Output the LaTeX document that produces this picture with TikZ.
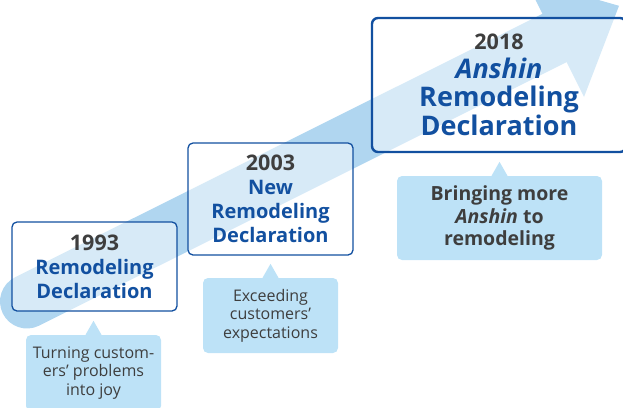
\documentclass[tikz,border=0pt]{standalone}
\usepackage{fontspec}
\setmainfont{Open Sans}
\definecolor{bandblue}{RGB}{176,214,240}
\definecolor{declblue}{RGB}{18,80,160}
\definecolor{callfill}{RGB}{189,226,247}
\definecolor{yeargray}{RGB}{62,62,62}
\newcommand{\yr}[1]{{\color{yeargray}\fontsize{21.5}{24}\selectfont#1}}
\newcommand{\ttl}[1]{{\color{declblue}#1}}

\begin{document}
\begin{tikzpicture}[%
    x=1pt, y=-1pt,
    decl/.style={draw=declblue, line width=1.3pt, rounded corners=5pt,
      fill=white, fill opacity=0.5, text opacity=1, align=center,
      inner sep=0pt, font=\fontsize{20}{24}\selectfont\bfseries},
    callout/.style={fill=callfill, rounded corners=5pt, align=center,
      text=yeargray, inner sep=0pt, font=\fontsize{16}{18.5}\selectfont}
  ]
    \useasboundingbox (0,0) rectangle (623,407);

    % the rising arrow behind the boxes
    \coordinate (tail) at (27,301.5);
    \coordinate (back) at (554.5,38);
    \coordinate (tip)  at (619,5.8);
    \draw[bandblue, line width=54pt, line cap=round] (tail) -- (back);
    \fill[bandblue] (525,-21) -- (tip) -- (584,97) -- cycle;

    \node[decl, minimum width=165pt, minimum height=89pt] (d1993) at (94.5,266.5)
      {\yr{1993}\\ \ttl{Remodeling}\\ \ttl{Declaration}};
    \node[decl, minimum width=165pt, minimum height=112pt] (d2003) at (270.5,199)
      {\yr{2003}\\ \ttl{New}\\ \ttl{Remodeling}\\ \ttl{Declaration}};
    \node[decl, line width=2.4pt, rounded corners=6pt, minimum width=254pt,
      minimum height=134pt, font=\fontsize{27}{28.5}\selectfont\bfseries]
      (d2018) at (499,85)
      {\yr{2018}\\ \ttl{\textit{Anshin}}\\ \ttl{Remodeling}\\ \ttl{Declaration}};

    \node[callout, minimum width=135pt, minimum height=76pt] (c1993) at (93.5,373)
      {Turning custom-\\ ers’ problems\\ into joy};
    \node[callout, minimum width=135pt, minimum height=75pt] (c2003) at (270.5,315.5)
      {Exceeding\\ customers’\\ expectations};
    \node[callout, minimum width=205pt, minimum height=84pt,
      font=\fontsize{19.5}{22.5}\selectfont\bfseries] (c2018) at (499.5,218)
      {Bringing more\\ \textit{Anshin} to\\ remodeling};

    % pointers of the callouts
    \foreach \c in {c1993,c2003,c2018}
      \fill[callfill] ([xshift=-8pt]\c.north) -- ([yshift=14pt]\c.north)
        -- ([xshift=8pt]\c.north) -- cycle;
\end{tikzpicture}
\end{document}
